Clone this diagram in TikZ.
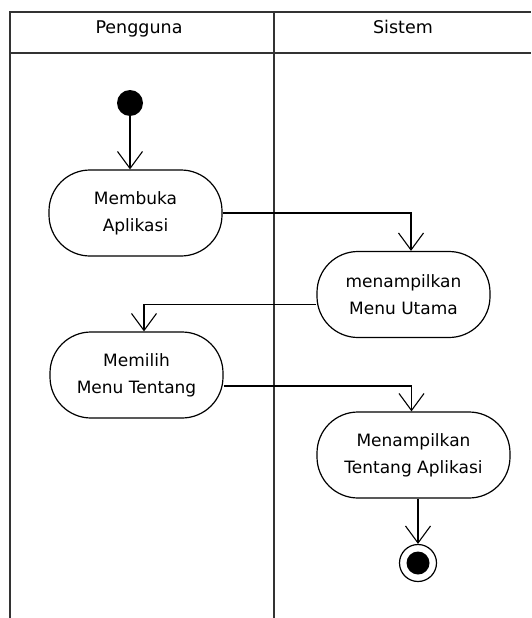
\documentclass[tikz,border=0pt]{standalone}
\usepackage{fontspec}
\setmainfont{DejaVu Sans}
\usetikzlibrary{arrows.meta}
\begin{document}
\begin{tikzpicture}[x=1pt,y=-1pt,
  lane/.style={draw=black!80,line width=1.6pt},
  action/.style={draw,line width=1.2pt,rounded corners=41pt,minimum height=86pt,
    align=center,inner sep=0pt,font=\fontsize{17}{27}\selectfont},
  lanehead/.style={anchor=base,font=\fontsize{17.5}{22}\selectfont},
  flow/.style={draw,line width=1.2pt,-{Straight Barb[length=17pt,width=25pt,line width=1.1pt]}},
  startnode/.style={circle,fill=black,minimum size=26pt,inner sep=0pt},
  endnode/.style={circle,draw,line width=1.2pt,fill=white,minimum size=37pt,inner sep=0pt}]
\useasboundingbox (0,0) rectangle (531,618);
\fill[white] (0,0) rectangle (531,618);

% swimlanes
\draw[lane] (10,618) -- (10,12) -- (531,12);
\draw[lane] (10,53) -- (531,53);
\draw[lane] (274,12) -- (274,618);
\node[lanehead] (hp) at (139,34) {Pengguna};
\node[lanehead] (hs) at (403,34) {Sistem};

% actions
\node[startnode] (start) at (130,103) {};
\node[action,minimum width=173pt] (mb) at (135.5,213) {Membuka\\Aplikasi};
\node[action,minimum width=173pt] (mu) at (403.5,294.5) {menampilkan\\Menu Utama};
\node[action,minimum width=173pt] (mp) at (136.5,375) {Memilih\\Menu Tentang};
\node[action,minimum width=193pt] (mt) at (413.5,455) {Menampilkan\\Tentang Aplikasi};
\node[endnode] (end) at (418,563) {};
\fill (end) circle (11.5pt);

% control flow
\draw[flow] (start) -- (mb.north -| start);
\draw[flow] (mb.east) -| ([xshift=7.5pt]mu.north);
\draw[flow] ([yshift=-10pt]mu.west) -| ([xshift=7.5pt]mp.north);
\draw[flow] ([yshift=-11pt]mp.east) -| ([xshift=-2pt]mt.north);
\draw[flow] (mt.south -| end) -- (end.north);
\end{tikzpicture}
\end{document}
